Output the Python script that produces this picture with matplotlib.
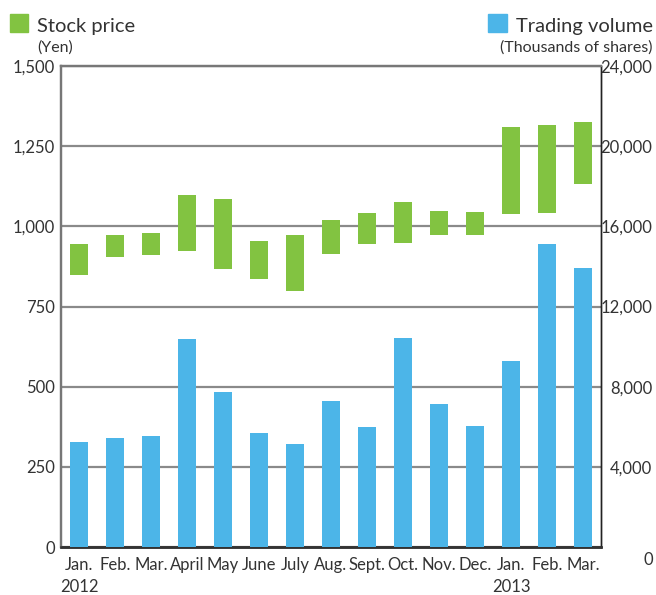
import numpy as np
import matplotlib
matplotlib.use('Agg')
import matplotlib.pyplot as plt
from matplotlib.patches import Rectangle

# dati
mesi = ['Jan.\n2012', 'Feb.', 'Mar.', 'April', 'May', 'June', 'July', 'Aug.',
        'Sept.', 'Oct.', 'Nov.', 'Dec.', 'Jan.\n2013', 'Feb.', 'Mar.']
prezzo_max = [944, 972, 978, 1097, 1084, 953, 972, 1019, 1041, 1075, 1047, 1044, 1309, 1316, 1325]
prezzo_min = [848, 904, 910, 923, 867, 835, 798, 913, 945, 948, 973, 973, 1038, 1041, 1132]
volume = [5250, 5450, 5550, 10400, 7750, 5700, 5150, 7300, 6000, 10450, 7150, 6050, 9300, 15100, 13900]

VERDE = '#82c341'
BLU = '#4cb5e8'
TESTO = '#333333'

plt.rcParams['font.family'] = ['Lato', 'DejaVu Sans']
plt.rcParams['text.color'] = TESTO

fig = plt.figure(figsize=(6.56, 5.95), dpi=100)
ax1 = fig.add_axes([61/656, 48/595, 540/656, 481/595])
ax2 = ax1.twinx()

x = np.arange(len(mesi))
alti = np.array(prezzo_max) - np.array(prezzo_min)

ax1.set_axisbelow(True)
ax1.grid(axis='y', color='#8a8a8a', linewidth=1.6)
ax1.bar(x, alti, bottom=prezzo_min, width=0.5, color=VERDE, zorder=3)
ax2.bar(x, volume, width=0.5, color=BLU, zorder=3)

ax1.set_xlim(-0.5, len(mesi) - 0.5)
ax1.set_ylim(0, 1500)
ax2.set_ylim(0, 24000)
ax1.set_yticks(np.arange(0, 1501, 250))
ax1.set_yticklabels([f'{v:,}' for v in range(0, 1501, 250)])
ax2.set_yticks(np.arange(4000, 24001, 4000))
ax2.set_yticklabels([f'{v:,}' for v in range(4000, 24001, 4000)])
ax1.set_xticks(x)
ax1.set_xticklabels(mesi, linespacing=1.45)

ax1.tick_params(axis='y', length=0, pad=4.5, labelsize=12, labelcolor=TESTO)
ax1.tick_params(axis='x', length=0, pad=7, labelsize=12, labelcolor=TESTO)
ax2.tick_params(axis='y', length=0, pad=37, labelsize=12, labelcolor=TESTO)
for lab in ax2.get_yticklabels():
    lab.set_horizontalalignment('right')
    lab.set_verticalalignment('center_baseline')
ax2.text(1 + 52/540, -250, '0', transform=ax2.get_yaxis_transform(), fontsize=12,
         ha='right', va='top', color=TESTO)

for a in (ax1, ax2):
    a.spines['left'].set_color('#777777')
    a.spines['left'].set_linewidth(1.6)
    a.spines['top'].set_color('#777777')
    a.spines['top'].set_linewidth(1.6)
    a.spines['right'].set_color('#222222')
    a.spines['right'].set_linewidth(1.0)
    a.spines['bottom'].set_color('#333333')
    a.spines['bottom'].set_linewidth(1.8)

# legende in alto
fig.patches.append(Rectangle((10/656, 1 - 32/595), 18/656, 18/595,
                             transform=fig.transFigure, color=VERDE))
fig.text(37/656, 1 - 32/595, 'Stock price', fontsize=14.5, va='baseline', ha='left')
fig.text(37/656, 1 - 52/595, '(Yen)', fontsize=11.5, va='baseline', ha='left')

fig.patches.append(Rectangle((488/656, 1 - 32/595), 19/656, 18/595,
                             transform=fig.transFigure, color=BLU))
fig.text(653/656, 1 - 32/595, 'Trading volume', fontsize=14.5, va='baseline', ha='right')
fig.text(653/656, 1 - 52/595, '(Thousands of shares)', fontsize=11.5, va='baseline', ha='right')

fig.savefig('out.png', dpi=100)
